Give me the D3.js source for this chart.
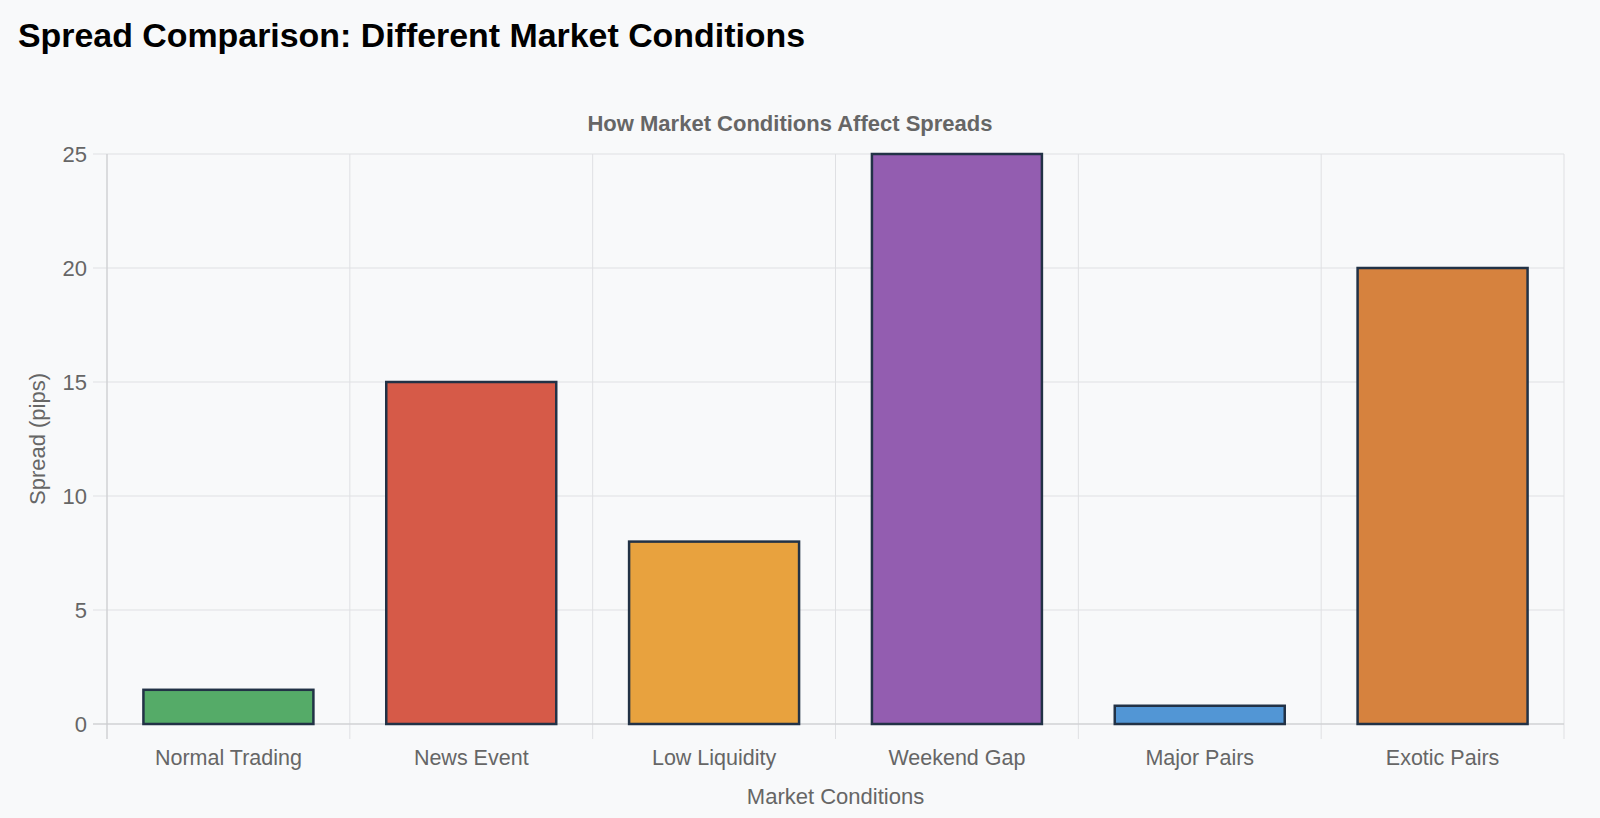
<!DOCTYPE html>
<meta charset="utf-8">
<style>
  body { margin: 0; background: #f8f9fa; font-family: "Liberation Sans", Arial, sans-serif; }
</style>
<svg width="1600" height="818" style="position:absolute;left:0;top:0"></svg>
<script src="https://d3js.org/d3.v7.min.js"></script>
<script>
const conditions = ["Normal Trading", "News Event", "Low Liquidity", "Weekend Gap", "Major Pairs", "Exotic Pairs"]
const spreads = [1.5, 15, 8, 25, 0.8, 20]
const barColours = ["#55ab68", "#d65a48", "#e8a23e", "#935db0", "#5296d5", "#d6823e"]
const yTicks = [0, 5, 10, 15, 20, 25]

const svg = d3.select('svg')
const plotLeft = 107, plotRight = 1564, plotTop = 154, plotBottom = 724

const x = d3.scaleBand().domain(conditions).range([plotLeft, plotRight])
const y = d3.scaleLinear().domain([0, 25]).range([plotBottom, plotTop])

// grid
const grid = svg.append('g')
grid.selectAll('line.h').data(yTicks).enter().append('line')
	.attr('x1', plotLeft - 14).attr('x2', plotRight)
	.attr('y1', d => y(d)).attr('y2', d => y(d))
	.attr('stroke', '#dfe0e3').attr('stroke-width', 1)

const bounds = conditions.map(c => x(c)).concat([plotRight])
grid.selectAll('line.v').data(bounds).enter().append('line')
	.attr('x1', d => d).attr('x2', d => d)
	.attr('y1', plotTop).attr('y2', plotBottom + 15)
	.attr('stroke', '#dfe0e3').attr('stroke-width', 1)

// axis lines
svg.append('line').attr('x1', plotLeft).attr('x2', plotLeft).attr('y1', plotTop).attr('y2', plotBottom + 15)
	.attr('stroke', '#c9cacd')
svg.append('line').attr('x1', plotLeft - 14).attr('x2', plotRight).attr('y1', plotBottom).attr('y2', plotBottom)
	.attr('stroke', '#c9cacd')

// bars
const inner = 0.70
svg.append('g').selectAll('rect').data(conditions).enter().append('rect')
	.attr('x', (d) => x(d) + x.bandwidth() * (1 - inner) / 2)
	.attr('width', x.bandwidth() * inner)
	.attr('y', (d, i) => y(spreads[i]))
	.attr('height', (d, i) => plotBottom - y(spreads[i]))
	.attr('fill', (d, i) => barColours[i])
	.attr('stroke', '#223246')
	.attr('stroke-width', 2.5)

// tick labels
svg.append('g').selectAll('text').data(yTicks).enter().append('text')
	.attr('x', plotLeft - 20).attr('y', d => y(d)).attr('dy', '0.35em')
	.attr('text-anchor', 'end')
	.attr('font-size', 22).attr('fill', '#666')
	.text(d => d)

svg.append('g').selectAll('text').data(conditions).enter().append('text')
	.attr('x', d => x(d) + x.bandwidth() / 2).attr('y', 765)
	.attr('text-anchor', 'middle')
	.attr('font-size', 21.5).attr('fill', '#666')
	.text(d => d)

// titles
svg.append('text').attr('x', 18).attr('y', 47)
	.attr('font-size', 33.9).attr('font-weight', 'bold').attr('fill', '#000')
	.text('Spread Comparison: Different Market Conditions')

svg.append('text').attr('x', 790).attr('y', 131)
	.attr('text-anchor', 'middle').attr('font-size', 22).attr('font-weight', 'bold').attr('fill', '#666')
	.text('How Market Conditions Affect Spreads')

svg.append('text').attr('x', (plotLeft + plotRight) / 2).attr('y', 804)
	.attr('text-anchor', 'middle').attr('font-size', 22).attr('fill', '#666')
	.text('Market Conditions')

svg.append('text').attr('transform', 'translate(45,' + ((plotTop + plotBottom) / 2) + ') rotate(-90)')
	.attr('text-anchor', 'middle').attr('font-size', 22).attr('fill', '#666')
	.text('Spread (pips)')
</script>
